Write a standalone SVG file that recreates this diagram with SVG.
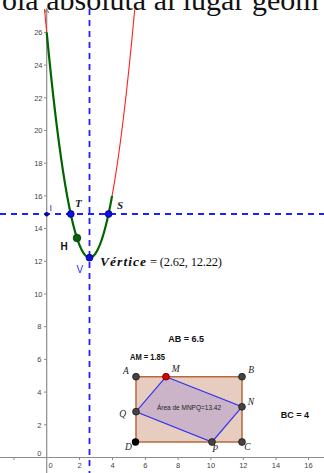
<svg xmlns="http://www.w3.org/2000/svg" width="324" height="473" viewBox="0 0 324 473">
<style>
.ax{stroke:#8c8c8c;stroke-width:1.2;fill:none}
.tk{stroke:#8c8c8c;stroke-width:1}
.tl{font-family:"Liberation Sans",Arial,sans-serif;font-size:7.5px;fill:#444}
.dash{stroke:#1f1fff;stroke-width:1.8;stroke-dasharray:6 5;fill:none}
.red{stroke:#ff2020;stroke-width:1.1;fill:none}
.grn{stroke:#006400;stroke-width:2.2;fill:none}
.bpt{fill:#1010e0;stroke:#00007a;stroke-width:0.8}
.gpt{fill:#444;stroke:#1a1a1a;stroke-width:0.8}
.pl{font-family:"Liberation Serif","Times New Roman",serif;font-style:italic;font-size:9.5px;fill:#222}
.lab{font-family:"Liberation Sans",Arial,sans-serif;font-weight:bold;fill:#111}
</style>
<rect width="324" height="473" fill="#fff"/>
<text x="2" y="10" font-family="Liberation Serif,'Times New Roman',serif" font-size="30" fill="#111">ola absoluta al lugar geom</text>

<g id="axes">
<line class="ax" x1="46.7" y1="9" x2="46.7" y2="473"/>
<path class="ax" d="M44.7 13 L46.7 9 L48.7 13"/>
<line class="ax" x1="0" y1="457.5" x2="324" y2="457.5"/>
<g class="tk">
<line x1="44" y1="32.4" x2="46.7" y2="32.4"/><line x1="44" y1="65.1" x2="46.7" y2="65.1"/>
<line x1="44" y1="97.8" x2="46.7" y2="97.8"/><line x1="44" y1="130.5" x2="46.7" y2="130.5"/>
<line x1="44" y1="163.2" x2="46.7" y2="163.2"/><line x1="44" y1="195.9" x2="46.7" y2="195.9"/>
<line x1="44" y1="228.6" x2="46.7" y2="228.6"/><line x1="44" y1="261.3" x2="46.7" y2="261.3"/>
<line x1="44" y1="294" x2="46.7" y2="294"/><line x1="44" y1="326.7" x2="46.7" y2="326.7"/>
<line x1="44" y1="359.4" x2="46.7" y2="359.4"/><line x1="44" y1="392.1" x2="46.7" y2="392.1"/>
<line x1="44" y1="424.8" x2="46.7" y2="424.8"/>
<line x1="14" y1="457.5" x2="14" y2="460"/><line x1="79.5" y1="457.5" x2="79.5" y2="460"/>
<line x1="112.5" y1="457.5" x2="112.5" y2="460"/><line x1="145.4" y1="457.5" x2="145.4" y2="460"/>
<line x1="178.1" y1="457.5" x2="178.1" y2="460"/><line x1="210.9" y1="457.5" x2="210.9" y2="460"/>
<line x1="243.3" y1="457.5" x2="243.3" y2="460"/><line x1="276" y1="457.5" x2="276" y2="460"/>
<line x1="308.5" y1="457.5" x2="308.5" y2="460"/>
</g>
<g class="tl" text-anchor="end">
<text x="42.5" y="35.1">26</text><text x="42.5" y="67.8">24</text><text x="42.5" y="100.5">22</text>
<text x="42.5" y="133.2">20</text><text x="42.5" y="165.9">18</text><text x="42.5" y="198.6">16</text>
<text x="42.5" y="231.3">14</text><text x="42.5" y="264">12</text><text x="42.5" y="296.7">10</text>
<text x="41.5" y="329.4">8</text><text x="41.5" y="362.1">6</text><text x="41.5" y="394.8">4</text>
<text x="41.5" y="427.5">2</text><text x="41.5" y="456">0</text>
</g>
<g class="tl" text-anchor="middle">
<text x="50.7" y="467.5">0</text><text x="79.5" y="467.5">2</text><text x="112.5" y="467.5">4</text>
<text x="145.4" y="467.5">6</text><text x="178.1" y="467.5">8</text><text x="210.9" y="467.5">10</text>
<text x="243.3" y="467.5">12</text><text x="276" y="467.5">14</text><text x="308.5" y="467.5">16</text>
</g>
</g>

<g id="connectors">
<line class="dash" x1="89.5" y1="9" x2="89.5" y2="473"/>
<line class="dash" x1="0" y1="214" x2="324" y2="214"/>
<path class="red" d="M44.5 9 Q45.6 21 46.7 32.4"/>
<path class="red" d="M112.1 195.9 Q123.4 133.85 134.7 9.5"/>
<path class="grn" d="M46.7 32.4 Q79.4 375.75 112.1 195.9"/>
</g>

<g id="I"><circle cx="46.7" cy="214.2" r="2.2" fill="#0a0a8a"/><text x="49.5" y="211" font-family="Liberation Sans,Arial,sans-serif" font-size="9" fill="#1f1fff">I</text></g>
<g id="T"><circle class="bpt" cx="70.8" cy="214" r="3.4"/><text x="75" y="206.5" font-family="Liberation Serif,serif" font-style="italic" font-weight="bold" font-size="11" fill="#222">T</text></g>
<g id="S"><circle class="bpt" cx="108.6" cy="214" r="3.4"/><text x="117" y="209" font-family="Liberation Serif,serif" font-style="italic" font-weight="bold" font-size="11" fill="#222">S</text></g>
<g id="H"><circle cx="77" cy="238" r="3.8" fill="#0b5e0b" stroke="#033803" stroke-width="0.8"/><text x="60.5" y="250" class="lab" font-size="10">H</text></g>
<g id="V"><circle class="bpt" cx="89.5" cy="257.7" r="3.4"/><text x="76.5" y="273" font-family="Liberation Sans,Arial,sans-serif" font-size="10" fill="#1f1fff">V</text>
<text x="100" y="266" font-family="Liberation Serif,serif" font-style="italic" font-weight="bold" font-size="13.5" fill="#111" textLength="46" lengthAdjust="spacing">Vértice</text>
<text x="150" y="266" font-family="Liberation Serif,serif" font-size="12.5" fill="#111" textLength="72" lengthAdjust="spacing">= (2.62, 12.22)</text></g>

<g id="labels">
<text x="168.3" y="341.5" class="lab" font-size="9">AB = 6.5</text>
<text x="130" y="359.7" class="lab" font-size="8.3" textLength="35" lengthAdjust="spacingAndGlyphs">AM = 1.85</text>
<text x="280.7" y="417.5" class="lab" font-size="9">BC = 4</text>
</g>

<g id="ABCD"><polygon points="136,376.7 242,376.7 242,442 136,442" fill="#e6cdbf" stroke="#b8683e" stroke-width="1.5"/></g>
<g id="MNPQ"><polygon points="166,376.7 242,406.8 212,442 136,411.7" fill="#cbb4c8" stroke="#3030f0" stroke-width="1.2"/>
<text x="189" y="409.5" text-anchor="middle" font-family="Liberation Sans,Arial,sans-serif" font-size="6.5" fill="#222">Área de MNPQ=13.42</text></g>

<g id="A"><circle class="gpt" cx="136" cy="376.7" r="3.4"/><text class="pl" x="123" y="373.5">A</text></g>
<g id="M"><circle cx="166" cy="376.7" r="3.4" fill="#e00000" stroke="#4a0000" stroke-width="0.8"/><text class="pl" x="171.7" y="372">M</text></g>
<g id="B"><circle class="gpt" cx="242" cy="376.7" r="3.4"/><text class="pl" x="248.3" y="373.3">B</text></g>
<g id="N"><circle class="gpt" cx="242" cy="406.8" r="3.4"/><text class="pl" x="247.7" y="405.3">N</text></g>
<g id="Q"><circle class="gpt" cx="136" cy="411.7" r="3.4"/><text class="pl" x="119.3" y="417">Q</text></g>
<g id="D"><circle cx="135.5" cy="442" r="3.7" fill="#000"/><text class="pl" x="125" y="450">D</text></g>
<g id="P"><circle class="gpt" cx="212" cy="442" r="3.4"/><text class="pl" x="212.3" y="451.7">P</text></g>
<g id="C"><circle class="gpt" cx="242" cy="442" r="3.4"/><text class="pl" x="244.3" y="450">C</text></g>
</svg>
